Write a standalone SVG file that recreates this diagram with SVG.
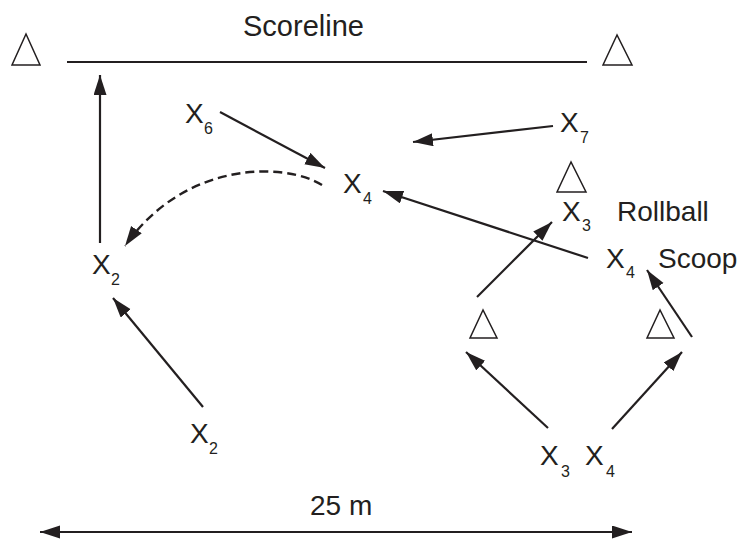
<svg xmlns="http://www.w3.org/2000/svg" width="743" height="540" viewBox="0 0 743 540">
<defs>
<style>
text{font-family:"Liberation Sans",Arial,sans-serif;fill:#231f20}
.t{font-size:28px}
.s{font-size:16px}
.cone{fill:none;stroke:#231f20;stroke-width:1.5;stroke-linejoin:miter}
.ln{fill:none;stroke:#231f20;stroke-width:2.2}
.arr{fill:none;stroke:#231f20;stroke-width:2.2;marker-end:url(#ah)}
.dash{fill:none;stroke:#231f20;stroke-width:2.4;stroke-dasharray:9 5;marker-end:url(#ah)}
</style>
<marker id="ah" markerUnits="userSpaceOnUse" markerWidth="22" markerHeight="14" refX="20" refY="6.5" orient="auto-start-reverse" viewBox="0 0 22 14">
<path d="M0,0 L20,6.5 L0,13 z" fill="#231f20"/>
</marker>
</defs>
<rect width="743" height="540" fill="#fff"/>

<g id="scoreline">
<line class="ln" x1="67" y1="62" x2="587" y2="62"/>
<text class="t" x="243" y="36" style="font-size:29px">Scoreline</text>
</g>

<g id="cone-top-left"><polygon class="cone" points="26,34 12,65 40,65"/></g>
<g id="cone-top-right"><polygon class="cone" points="617,35 603,65 632,65"/></g>
<g id="cone-mid"><polygon class="cone" points="571,162 557,192 586,192"/></g>
<g id="cone-left"><polygon class="cone" points="483,310 470,338 497,338"/></g>
<g id="cone-right"><polygon class="cone" points="660,310 647,338 674,338"/></g>

<g id="x6"><text class="t" x="185" y="123">X</text><text class="s" x="204" y="134">6</text></g>
<g id="x4-center"><text class="t" x="343" y="193">X</text><text class="s" x="363" y="204">4</text></g>
<g id="x7"><text class="t" x="560" y="132">X</text><text class="s" x="580" y="143">7</text></g>
<g id="x3-top"><text class="t" x="562" y="221">X</text><text class="s" x="582" y="231">3</text></g>
<g id="rollball"><text class="t" x="617" y="221">Rollball</text></g>
<g id="x4-right"><text class="t" x="606" y="268">X</text><text class="s" x="626" y="278">4</text></g>
<g id="scoop"><text class="t" x="658" y="268">Scoop</text></g>
<g id="x2-top"><text class="t" x="92" y="274">X</text><text class="s" x="111" y="285">2</text></g>
<g id="x2-bottom"><text class="t" x="190" y="443">X</text><text class="s" x="209" y="454">2</text></g>
<g id="x3-bottom"><text class="t" x="540" y="465">X</text><text class="s" x="561" y="477">3</text></g>
<g id="x4-bottom"><text class="t" x="585" y="465">X</text><text class="s" x="606" y="477">4</text></g>
<g id="distance"><text class="t" x="310" y="515">25 m</text></g>

<g id="connectors">
<line class="arr" x1="100" y1="243" x2="100" y2="75"/>
<line class="arr" x1="220" y1="112" x2="325" y2="168"/>
<line class="arr" x1="553" y1="126" x2="413" y2="142"/>
<path class="dash" d="M322,185 C285,162 185,160 125,246"/>
<line class="arr" x1="203" y1="407" x2="113" y2="298"/>
<line class="arr" x1="588" y1="258" x2="383" y2="191"/>
<line class="arr" x1="477" y1="297" x2="552" y2="222"/>
<line class="arr" x1="692" y1="337" x2="647" y2="270"/>
<line class="arr" x1="548" y1="428" x2="466" y2="352"/>
<line class="arr" x1="612" y1="429" x2="682" y2="352"/>
<line class="arr" x1="40" y1="532" x2="632" y2="532" style="marker-start:url(#ah)"/>
</g>
</svg>
